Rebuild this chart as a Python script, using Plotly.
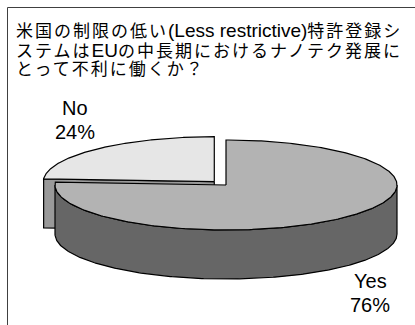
import re
import numpy as np
import plotly.graph_objects as go

# ---- data ----
labels = ["Yes", "No"]
values = [76, 24]
title_lines = [
    "米国の制限の低い(Less restrictive)特許登録シ",
    "ステムはEUの中長期におけるナノテク発展に",
    "とって不利に働くか？",
]

# ---- styles / geometry ----
TOP_COL = {"Yes": "#b3b3b3", "No": "#e6e6e6"}
SIDE_COL = {"Yes": "#666666", "No": "#999999"}
PULL = {"Yes": 0.0, "No": 0.1}
CX, CY, RX, RY, DEPTH = 226.0, 185.0, 171.0, 45.0, 49.0
LABEL_POS = {"Yes": (370, 293), "No": (75, 119.5)}
TITLE_Y = [30.5, 50.0, 69.5]
FONT_LAT = "Liberation Sans, Arial, Noto Sans CJK JP"
CJK_STYLE = "font-size:17px;letter-spacing:2px"
LAT_STYLE = "font-size:19px"


def rim(theta, ox, oy, dz=0.0):
    t = np.radians(theta)
    return ox + RX * np.cos(t), oy - RY * np.sin(t) + dz


total = float(sum(values))
faces, walls, tops = [], [], []
start = 90.0
for lab, v in zip(labels, values):
    hi = start
    lo = start - 360.0 * v / total
    start = lo
    mid = np.radians((hi + lo) / 2)
    p = PULL[lab]
    ox = CX + p * RX * np.cos(mid)
    oy = CY - p * RY * np.sin(mid)

    # top surface
    th = np.linspace(hi, lo, 300)
    ax, ay = rim(th, ox, oy)
    tops.append((lab, np.r_[ox, ax, ox], np.r_[oy, ay, oy]))

    # radial faces facing the viewer
    for a, vis in ((hi, np.cos(np.radians(hi)) < -1e-6), (lo, np.cos(np.radians(lo)) > 1e-6)):
        if vis:
            rx_, ry_ = rim(a, ox, oy)
            faces.append((lab, [ox, rx_, rx_, ox, ox], [oy, ry_, ry_ + DEPTH, oy + DEPTH, oy]))

    # outer wall, front half only
    for k in range(-3, 3):
        a1, a2 = 180 + 360 * k, 360 + 360 * k
        s, e = max(lo, a1), min(hi, a2)
        if e - s > 1e-6:
            th = np.linspace(s, e, 300)
            tx, ty = rim(th, ox, oy)
            bx, by = rim(th[::-1], ox, oy, DEPTH)
            walls.append((lab, np.r_[tx, bx, tx[0]], np.r_[ty, by, ty[0]]))

fig = go.Figure()
for group, colmap in ((faces, SIDE_COL), (walls, SIDE_COL), (tops, TOP_COL)):
    for lab, xs, ys in group:
        fig.add_trace(go.Scatter(
            x=xs, y=ys, mode="lines", fill="toself",
            fillcolor=colmap[lab], line=dict(color="black", width=1.2),
            hoverinfo="skip", showlegend=False,
        ))


def styled(line):
    out = []
    for run in re.findall(r"[\u2e80-\uffff]+|[^\u2e80-\uffff]+", line):
        st = CJK_STYLE if ord(run[0]) >= 0x2E80 else LAT_STYLE
        out.append(f'<span style="{st}">{run}</span>')
    return "".join(out)


annotations = []
for t, y in zip(title_lines, TITLE_Y):
    annotations.append(dict(
        x=14, y=y, xref="x", yref="y", text=styled(t), showarrow=False,
        xanchor="left", yanchor="middle", align="left",
        font=dict(family=FONT_LAT, size=17, color="black"),
    ))
for lab, v in zip(labels, values):
    lx, ly = LABEL_POS[lab]
    pct = f"{round(100 * v / total)}%"
    for txt, dy in ((lab, -12), (pct, 12)):
        annotations.append(dict(
            x=lx, y=ly + dy, xref="x", yref="y", text=txt, showarrow=False,
            xanchor="center", yanchor="middle",
            font=dict(family=FONT_LAT, size=20, color="black"),
        ))

fig.update_layout(
    width=415, height=325, autosize=False,
    margin=dict(l=0, r=0, t=0, b=0),
    paper_bgcolor="white", plot_bgcolor="white",
    xaxis=dict(range=[0, 415], visible=False, fixedrange=True),
    yaxis=dict(range=[325, 0], visible=False, fixedrange=True),
    annotations=annotations,
    shapes=[
        dict(type="line", xref="x", yref="y", x0=7.5, y0=7.5, x1=416, y1=7.5,
             line=dict(color="#404040", width=1)),
        dict(type="line", xref="x", yref="y", x0=7.5, y0=7.5, x1=7.5, y1=326,
             line=dict(color="#404040", width=1)),
    ],
)

fig.write_html("out.html")
